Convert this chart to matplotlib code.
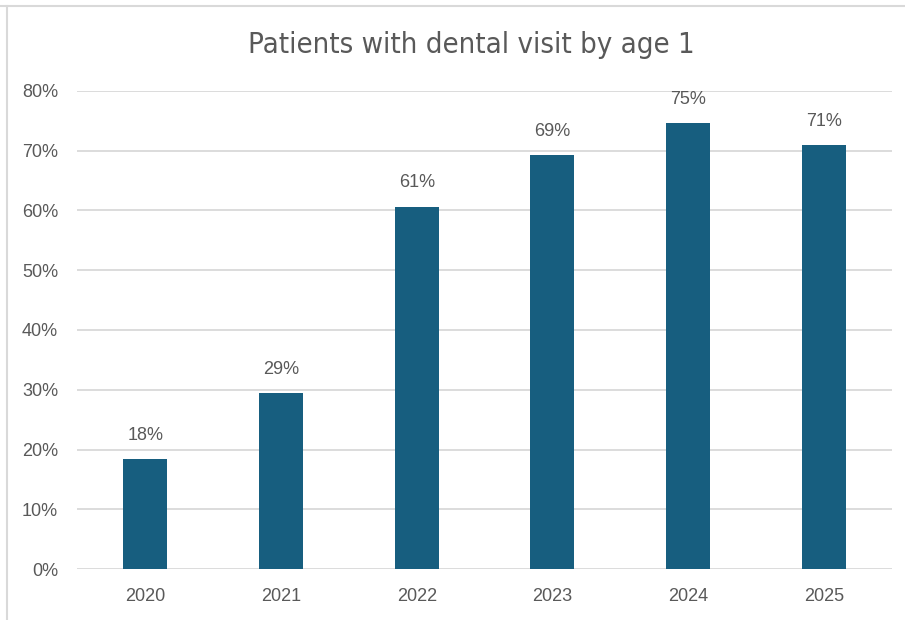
import matplotlib
matplotlib.use("Agg")
import matplotlib.pyplot as plt
from matplotlib.lines import Line2D
from matplotlib.ticker import PercentFormatter

years = ["2020", "2021", "2022", "2023", "2024", "2025"]
visit_rate = [0.184, 0.294, 0.606, 0.692, 0.746, 0.709]

bar_color = "#175E7F"
text_color = "#595959"
grid_color = "#D9D9D9"

plt.rcParams["font.family"] = ["Liberation Sans", "DejaVu Sans"]

fig = plt.figure(figsize=(9.05, 6.2), dpi=100)
ax = fig.add_axes([0.0856, 0.0818, 0.8997, 0.7719])

x = range(len(years))
bars = ax.bar(x, visit_rate, width=0.324, color=bar_color, zorder=3)

for b, v in zip(bars, visit_rate):
    ax.annotate(f"{v:.0%}", (b.get_x() + b.get_width() / 2, v),
                xytext=(0, 11), textcoords="offset points",
                ha="center", va="bottom", fontsize=13, color=text_color)

ax.set_xlim(-0.5, len(years) - 0.5)
ax.set_ylim(0, 0.8)
ax.set_yticks([i / 10 for i in range(9)])
ax.yaxis.set_major_formatter(PercentFormatter(1.0, decimals=0))
ax.set_xticks(list(x))
ax.set_xticklabels(years)
ax.tick_params(axis="both", length=0, labelsize=13, labelcolor=text_color)
ax.tick_params(axis="x", pad=13.5)
ax.tick_params(axis="y", pad=14)

ax.grid(axis="y", color=grid_color, linewidth=1.3, zorder=0)
for s in ax.spines.values():
    s.set_visible(False)

fig.text(0.521, 0.927, "Patients with dental visit by age 1",
         ha="center", va="center", fontsize=21, color=text_color,
         family="DejaVu Sans", fontstretch="condensed")

# thin frame on the top and left edges
fig.add_artist(Line2D([0, 1], [0.991, 0.991], color=grid_color, linewidth=1.5))
fig.add_artist(Line2D([0.0072, 0.0072], [0, 0.991], color=grid_color, linewidth=1.5))

fig.savefig("out.png", dpi=100)
